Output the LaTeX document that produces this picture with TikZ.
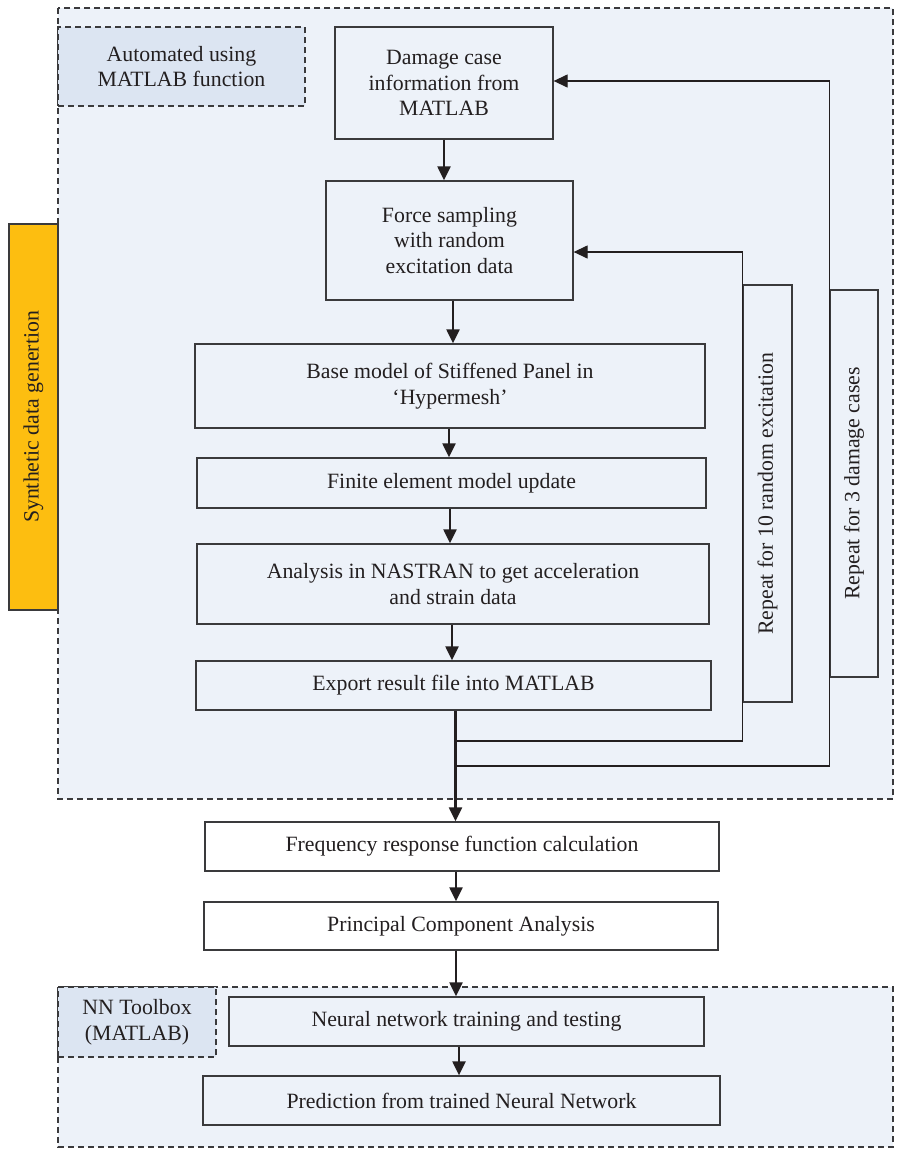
\documentclass[tikz,border=0pt]{standalone}
\usepackage{fontspec}
\setmainfont{Liberation Serif}
\usetikzlibrary{arrows.meta}
\definecolor{bgblue}{HTML}{EDF2F9}
\definecolor{lblblue}{HTML}{DCE5F2}
\definecolor{gold}{HTML}{FDBE10}
\definecolor{edge}{HTML}{3A3A3C}
\definecolor{ink}{HTML}{231F20}
\begin{document}
\begin{tikzpicture}[x=1pt,y=-1pt,
  font=\fontsize{21.8}{25.5}\selectfont, text=ink,
  box/.style={draw=edge, line width=1.3pt, fill=bgblue, inner sep=0pt, align=center},
  wbox/.style={box, fill=white},
  lbl/.style={box, fill=lblblue, dash pattern=on 6pt off 4pt},
  arr/.style={draw=ink, line width=2.2pt, -{Triangle[length=14pt 0, width=13pt 0]}},
  fb/.style={draw=ink, line width=1.3pt, -{Triangle[length=14pt 0, width=13pt 0]}},
  dbox/.style={draw=edge, line width=1.2pt, dash pattern=on 6pt off 4pt, fill=bgblue}]

\useasboundingbox (0,0) rectangle (911,1149);

% containers
\path[dbox] (58,8) rectangle (893,799);
\path[dbox] (58,987) rectangle (893,1147);

% side label
\node[box, fill=gold, rotate=90, minimum width=386pt, minimum height=49pt] (synth) at (33.5,417) {Synthetic data genertion};

% labels
\node[lbl, minimum width=247pt, minimum height=79pt] (auto) at (181.5,66.5) {Automated using\\MATLAB function};
\node[lbl, minimum width=158pt, minimum height=70pt] (nntool) at (137,1022) {NN Toolbox\\(MATLAB)};

% main boxes
\node[box, minimum width=218pt, minimum height=112pt] (damage) at (444,83) {Damage case\\information from\\MATLAB};
\node[box, minimum width=247pt, minimum height=119pt] (force) at (449.5,240.5) {Force sampling\\with random\\excitation data};
\node[box, minimum width=510pt, minimum height=84pt] (base) at (450,386) {Base model of Stiffened Panel in\\‘Hypermesh’};
\node[box, minimum width=509pt, minimum height=50pt] (fem) at (451.5,483) {Finite element model update};
\node[box, minimum width=512pt, minimum height=80pt] (analysis) at (453,584) {Analysis in NASTRAN to get acceleration\\and strain data};
\node[box, minimum width=515pt, minimum height=49pt] (export) at (453.5,685.5) {Export result file into MATLAB};

\node[wbox, minimum width=514pt, minimum height=49pt] (freq) at (462,846.5) {Frequency response function calculation};
\node[wbox, minimum width=514pt, minimum height=48pt] (pca) at (461,926) {Principal Component Analysis};

\node[box, minimum width=475pt, minimum height=49pt] (nntrain) at (466.5,1021.5) {Neural network training and testing};
\node[box, minimum width=517pt, minimum height=49pt] (pred) at (461.5,1100.5) {Prediction from trained Neural Network};

% repeat boxes
\node[box, rotate=90, minimum width=417pt, minimum height=49pt] (rep10) at (767.5,493.5) {Repeat for 10 random excitation};
\node[box, rotate=90, minimum width=387pt, minimum height=48pt] (rep3) at (854,483.5) {Repeat for 3 damage cases};

% forward arrows
\draw[arr] (damage.south) -- (damage.south |- force.north);
\draw[arr] ([xshift=3.5pt]force.south) -- ([xshift=3.5pt]force.south |- base.north);
\draw[arr] ([xshift=-1pt]base.south) -- ([xshift=-1pt]base.south |- fem.north);
\draw[arr] ([xshift=-1.5pt]fem.south) -- ([xshift=-1.5pt]fem.south |- analysis.north);
\draw[arr] ([xshift=-1pt]analysis.south) -- ([xshift=-1pt]analysis.south |- export.north);
\draw[arr] ([xshift=2pt]export.south) -- ([xshift=2pt]export.south |- freq.north);
\draw[arr] ([xshift=-6pt]freq.south) -- ([xshift=-6pt]freq.south |- pca.north);
\draw[arr] ([xshift=-5pt]pca.south) -- ([xshift=-5pt]pca.south |- nntrain.north);
\draw[arr] ([xshift=-7.5pt]nntrain.south) -- ([xshift=-7.5pt]nntrain.south |- pred.north);

% feedback loops
\coordinate (j1) at (456,741);
\coordinate (j2) at (456,766);
\coordinate (fbA) at ([yshift=-11.5pt]force.east);
\coordinate (fbB) at ([yshift=2pt]damage.east);
\draw[fb] (j1) -| (rep10.north |- fbA) -- (fbA);
\draw[fb] (j2) -| (rep3.north |- fbB) -- (fbB);
\end{tikzpicture}
\end{document}
